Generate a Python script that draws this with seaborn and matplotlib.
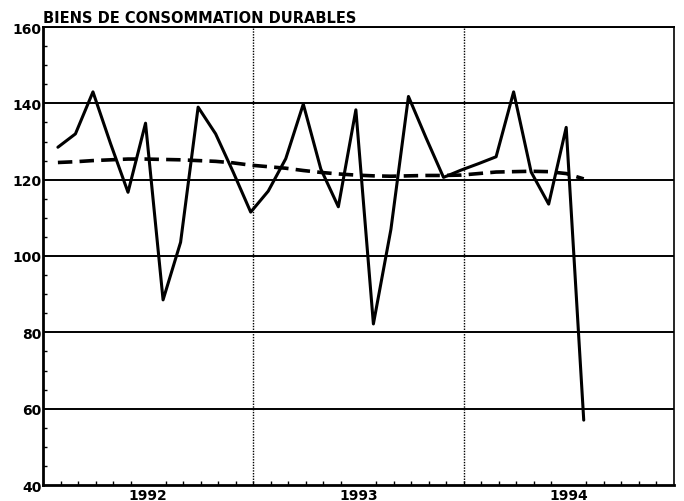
import numpy as np
import pandas as pd
import matplotlib
matplotlib.use("Agg")
import matplotlib.pyplot as plt
import seaborn as sns

# indice mensuel, janvier 1992 -> juillet 1994
mois = pd.period_range("1992-01", "1994-07", freq="M").astype(str).tolist()
brut = [128.5, 132, 143, 129.5, 116.7, 134.8, 88.5, 103.6, 139, 132, 122, 111.5,
        117, 125.5, 139.8, 122.8, 112.9, 138.3, 82.2, 107, 141.8, 131, 120.6, 122.5,
        124.2, 126, 143, 122, 113.6, 133.7, 57]
tendance = [124.5, 124.7, 125, 125.2, 125.4, 125.4, 125.3, 125.2, 125, 124.8, 124.4, 123.8,
            123.4, 123.0, 122.4, 121.9, 121.5, 121.2, 121.0, 120.9, 121.0, 121.1, 121.1, 121.2,
            121.6, 122.0, 122.1, 122.2, 122.1, 121.6, 120.2]
annees = ["1992", "1993", "1994"]
titre = "BIENS DE CONSOMMATION DURABLES"

sns.set_theme(style="white")
plt.rcParams["font.family"] = ["DejaVu Sans"]
plt.rcParams["text.color"] = "black"

df = pd.DataFrame({"mois": mois, "brut": brut, "tendance": tendance})
df["x"] = np.arange(len(df)) + 0.85

fig = plt.figure(figsize=(6.84, 5.02), dpi=100)
ax = fig.add_axes([43 / 684, 1 - 486 / 502, (674 - 43) / 684, (486 - 28) / 502])

for y in range(60, 161, 20):
    ax.axhline(y, color="black", lw=1.4, zorder=1)
for x in (12, 24):
    ax.axvline(x, color="black", lw=1.0, ls=(0, (1, 1)), zorder=1)

sns.lineplot(data=df, x="x", y="brut", ax=ax, color="black", lw=2.2, zorder=3)
sns.lineplot(data=df, x="x", y="tendance", ax=ax, color="black", lw=2.6,
             dashes=False, zorder=3, linestyle=(0, (4, 2)))

ax.set_xlim(0, 36)
ax.set_ylim(40, 160)
ax.set_xlabel("")
ax.set_ylabel("")

ax.set_yticks(range(40, 161, 20))
ax.set_yticks(range(40, 161, 5), minor=True)
ax.set_xticks([6, 18, 30])
ax.set_xticklabels(annees)
ax.set_xticks(range(1, 36), minor=True)
ax.tick_params(axis="both", which="major", length=0, labelsize=10, colors="black")
ax.tick_params(axis="y", which="major", pad=1)
ax.tick_params(axis="x", which="major", pad=2)
ax.tick_params(axis="both", which="minor", direction="in", length=3, width=1, color="black")
ax.tick_params(axis="x", which="minor", bottom=True)
ax.tick_params(axis="y", which="minor", left=True)
for lab in ax.get_xticklabels() + ax.get_yticklabels():
    lab.set_fontweight("bold")

for side, w in (("left", 2), ("bottom", 2), ("top", 1.4), ("right", 1.2)):
    ax.spines[side].set_visible(True)
    ax.spines[side].set_color("black")
    ax.spines[side].set_linewidth(w)

ax.text(0, 1.004, titre, transform=ax.transAxes, ha="left", va="bottom",
        fontsize=10.5, fontweight="bold", color="black")

fig.savefig("out.png", dpi=100)
